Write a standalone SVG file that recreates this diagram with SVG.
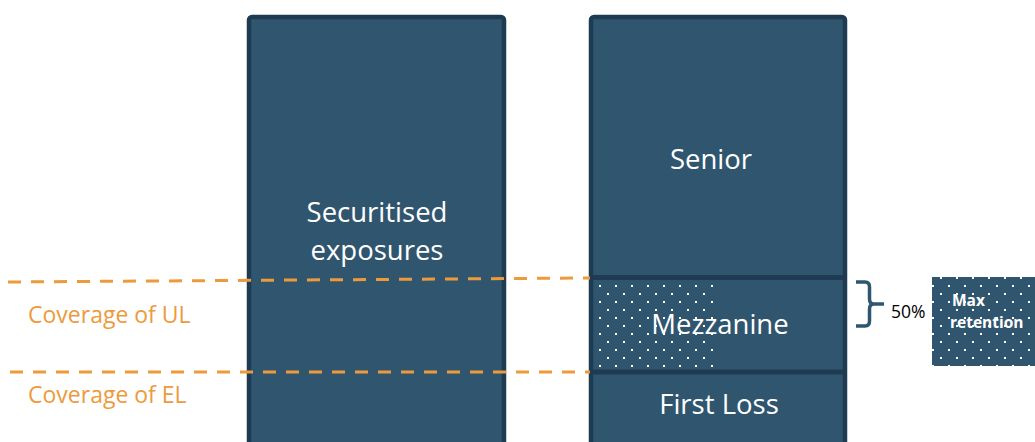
<svg xmlns="http://www.w3.org/2000/svg" width="1035" height="442" viewBox="0 0 1035 442">
<style>
.col{fill:#30566f;stroke:#1f3b52;stroke-width:4.5}
.sep{stroke:#1f3b52;stroke-width:5}
.lbl{font-family:"Open Sans","Liberation Sans",sans-serif;fill:#ffffff;text-anchor:middle;font-size:27.5px}
.cov{font-family:"Open Sans","Liberation Sans",sans-serif;fill:#ed9a3c;font-size:23px}
.dash{stroke:#ed9a3c;stroke-width:3;stroke-dasharray:13 10;fill:none}
</style>
<defs>
<pattern id="dots" patternUnits="userSpaceOnUse" x="599" y="285" width="16" height="16">
<rect x="0" y="0" width="2" height="2" fill="#ffffff"/>
<rect x="8" y="8" width="2" height="2" fill="#ffffff"/>
</pattern>
<pattern id="dots2" patternUnits="userSpaceOnUse" x="940" y="277" width="16" height="16">
<rect x="0" y="0" width="2" height="2" fill="#ffffff"/>
<rect x="8" y="8" width="2" height="2" fill="#ffffff"/>
</pattern>
</defs>
<g id="securitised">
<rect class="col" x="249" y="17" width="255" height="440" rx="3"/>
<text class="lbl" x="377" y="222">Securitised</text>
<text class="lbl" x="377" y="260">exposures</text>
</g>
<g id="tranches">
<rect class="col" x="591" y="17" width="254" height="440" rx="3"/>
<line class="sep" x1="591" y1="277.5" x2="845" y2="277.5"/>
<line class="sep" x1="591" y1="372" x2="845" y2="372"/>
</g>
<g id="senior">
<text class="lbl" x="711" y="169">Senior</text>
</g>
<g id="mezzanine">
<rect x="593" y="281" width="122" height="88" fill="url(#dots)"/>
<text class="lbl" x="720" y="334">Mezzanine</text>
</g>
<g id="firstloss">
<text class="lbl" x="719" y="414">First Loss</text>
</g>
<g id="brace">
<path d="M856 282 H865 Q869.5 282 869.5 287 V299 Q869.5 304 874 304 H884 M874 304 Q869.5 304 869.5 309 V321 Q869.5 326 865 326 H856" fill="none" stroke="#30566f" stroke-width="3.5"/>
<text x="891" y="318" font-family="'Open Sans','Liberation Sans',sans-serif" font-size="17.5" fill="#000000">50%</text>
</g>
<g id="maxretention">
<rect x="932" y="277" width="103" height="89" fill="#30566f"/>
<rect x="932" y="277" width="103" height="89" fill="url(#dots2)"/>
<text x="952" y="306" font-family="'Open Sans','Liberation Sans',sans-serif" font-size="15.5" font-weight="bold" fill="#ffffff">Max</text>
<text x="950" y="328" font-family="'Open Sans','Liberation Sans',sans-serif" font-size="15.5" font-weight="bold" fill="#ffffff">retention</text>
</g>
<g id="connectors">
<line class="dash" x1="8" y1="282" x2="590" y2="278"/>
<line class="dash" x1="10" y1="372" x2="590" y2="372"/>
</g>
<g id="coverage-ul"><text class="cov" x="28" y="323">Coverage of UL</text></g>
<g id="coverage-el"><text class="cov" x="28" y="403">Coverage of EL</text></g>
</svg>
